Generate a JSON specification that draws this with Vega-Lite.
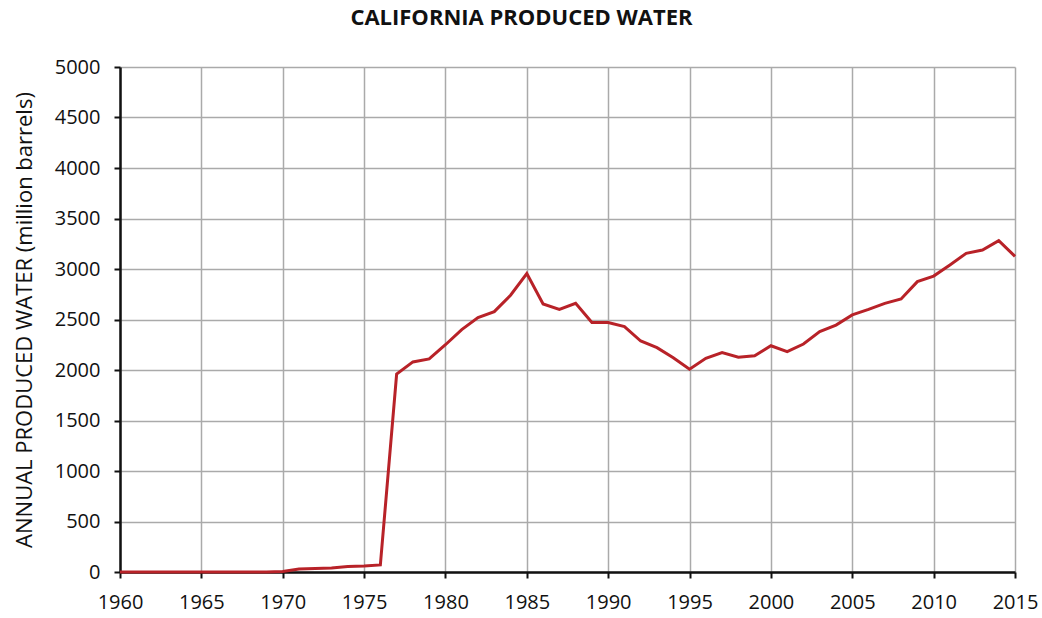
{
  "$schema": "https://vega.github.io/schema/vega-lite/v6.json",
  "width": 895,
  "height": 505,
  "autosize": "none",
  "padding": {"left": 120, "top": 67, "right": 27, "bottom": 46},
  "background": "white",
  "title": {"text": "CALIFORNIA PRODUCED WATER", "font": "Open Sans", "fontSize": 22, "fontWeight": "bold", "color": "#111", "anchor": "middle", "dx": -46, "offset": 27},
  "config": {"view": {"stroke": null}},
  "data": {"values": [
    {"year": 1960, "water": 0}, {"year": 1961, "water": 0}, {"year": 1962, "water": 0}, {"year": 1963, "water": 0},
    {"year": 1964, "water": 0}, {"year": 1965, "water": 0}, {"year": 1966, "water": 0}, {"year": 1967, "water": 0},
    {"year": 1968, "water": 0}, {"year": 1969, "water": 0}, {"year": 1970, "water": 5}, {"year": 1971, "water": 30},
    {"year": 1972, "water": 35}, {"year": 1973, "water": 40}, {"year": 1974, "water": 55}, {"year": 1975, "water": 60},
    {"year": 1976, "water": 70}, {"year": 1977, "water": 1960}, {"year": 1978, "water": 2080}, {"year": 1979, "water": 2110},
    {"year": 1980, "water": 2250}, {"year": 1981, "water": 2400}, {"year": 1982, "water": 2520}, {"year": 1983, "water": 2578},
    {"year": 1984, "water": 2740}, {"year": 1985, "water": 2955}, {"year": 1986, "water": 2653}, {"year": 1987, "water": 2600},
    {"year": 1988, "water": 2660}, {"year": 1989, "water": 2470}, {"year": 1990, "water": 2470}, {"year": 1991, "water": 2430},
    {"year": 1992, "water": 2287}, {"year": 1993, "water": 2221}, {"year": 1994, "water": 2122}, {"year": 1995, "water": 2007},
    {"year": 1996, "water": 2116}, {"year": 1997, "water": 2172}, {"year": 1998, "water": 2126}, {"year": 1999, "water": 2140},
    {"year": 2000, "water": 2240}, {"year": 2001, "water": 2181}, {"year": 2002, "water": 2257}, {"year": 2003, "water": 2380},
    {"year": 2004, "water": 2445}, {"year": 2005, "water": 2545}, {"year": 2006, "water": 2600}, {"year": 2007, "water": 2660},
    {"year": 2008, "water": 2703}, {"year": 2009, "water": 2875}, {"year": 2010, "water": 2930}, {"year": 2011, "water": 3040},
    {"year": 2012, "water": 3155}, {"year": 2013, "water": 3188}, {"year": 2014, "water": 3280}, {"year": 2015, "water": 3125}
  ]},
  "mark": {"type": "line", "color": "#B82228", "strokeWidth": 3},
  "encoding": {
    "x": {"field": "year", "type": "quantitative",
      "scale": {"domain": [1960, 2015], "nice": false, "zero": false},
      "axis": {"title": null, "values": [1960,1965,1970,1975,1980,1985,1990,1995,2000,2005,2010,2015], "format": "d",
        "labelFont": "Open Sans", "labelFontSize": 20, "labelColor": "#111", "labelPadding": 14,
        "domainColor": "#111", "domainWidth": 2.5, "tickColor": "#111", "tickSize": 6, "tickWidth": 2,
        "gridColor": "#aaaaaa", "gridWidth": 1.5, "gridOpacity": 1, "labelFlush": false}},
    "y": {"field": "water", "type": "quantitative",
      "scale": {"domain": [0, 5000], "nice": false},
      "axis": {"title": "ANNUAL PRODUCED WATER (million barrels)", "values": [0,500,1000,1500,2000,2500,3000,3500,4000,4500,5000], "format": "d",
        "titleFont": "Open Sans", "titleFontSize": 22, "titleFontWeight": "normal", "titleColor": "#111", "titlePadding": 18,
        "labelFont": "Open Sans", "labelFontSize": 20, "labelColor": "#111", "labelPadding": 14,
        "domainColor": "#111", "domainWidth": 2.5, "tickColor": "#111", "tickSize": 6, "tickWidth": 2,
        "gridColor": "#aaaaaa", "gridWidth": 1.5, "gridOpacity": 1}}
  }
}
